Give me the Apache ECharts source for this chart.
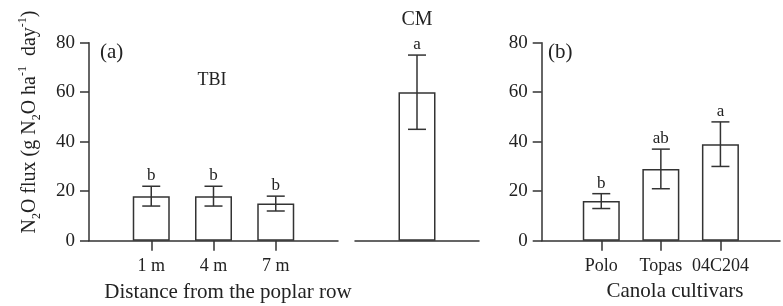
<!DOCTYPE html>
<html>
<head>
<meta charset="utf-8">
<script src="https://cdn.jsdelivr.net/npm/echarts@6/dist/echarts.min.js"></script>
<style>html,body{margin:0;padding:0;background:#fff}#c{width:783px;height:306px}</style>
</head>
<body>
<div id="c"></div>
<script>
// ---- data ----
const catsA = ['1 m', '4 m', '7 m'];
const valsA = [18, 18, 15];
const errA = [4, 4, 3];
const lettersA = ['b', 'b', 'b'];

const catsCM = ['CM'];
const valsCM = [60];
const errCM = [15];
const lettersCM = ['a'];

const catsB = ['Polo', 'Topas', '04C204'];
const valsB = [16, 29, 39];
const errB = [3, 8, 9];
const lettersB = ['b', 'ab', 'a'];

const yTicks = [0, 20, 40, 60, 80];

// ---- helpers ----
const FONT = 'Liberation Serif';
const INK = '#222';
const LINE = '#333';
const padCats = c => ['', ...c, ''];
const padVals = v => ['-', ...v, '-'];

function errData(vals, errs, offset) {
  return vals.map((v, i) => [i + offset, v, errs[i]]);
}
function errSeries(xi, vals, errs, letters, offset) {
  return {
    type: 'custom', xAxisIndex: xi, yAxisIndex: xi, z: 5,
    data: errData(vals, errs, offset),
    encode: {x: 0, y: 1},
    renderItem: function (params, api) {
      const x = api.value(0), v = api.value(1), e = api.value(2);
      const t = api.coord([x, v + e]);
      const b = api.coord([x, v - e]);
      const hw = 9;
      const st = {stroke: LINE, lineWidth: 1.5};
      return {
        type: 'group',
        children: [
          {type: 'line', shape: {x1: t[0], y1: t[1], x2: b[0], y2: b[1]}, style: st},
          {type: 'line', shape: {x1: t[0] - hw, y1: t[1], x2: t[0] + hw, y2: t[1]}, style: st},
          {type: 'line', shape: {x1: b[0] - hw, y1: b[1], x2: b[0] + hw, y2: b[1]}, style: st},
          {type: 'text', x: t[0], y: t[1] - 2, style: {text: letters[params.dataIndex], fill: INK,
            font: '17px "' + FONT + '"', align: 'center', verticalAlign: 'bottom'}}
        ]
      };
    }
  };
}
function barSeries(xi, data) {
  return {
    type: 'bar', xAxisIndex: xi, yAxisIndex: xi, data: data, barWidth: 37,
    itemStyle: {color: '#fff', borderColor: LINE, borderWidth: 1.5}
  };
}
const yAxisBase = (gi, show) => ({
  type: 'value', gridIndex: gi, min: yTicks[0], max: yTicks[yTicks.length - 1],
  interval: yTicks[1] - yTicks[0], show: show,
  axisLine: {show: true, lineStyle: {color: LINE, width: 1.5}},
  axisTick: {show: true, length: 9, lineStyle: {color: LINE, width: 1.5}},
  axisLabel: {color: INK, fontFamily: FONT, fontSize: 19, margin: 14},
  splitLine: {show: false}
});
const xAxisCat = (gi, data, gap) => ({
  type: 'category', gridIndex: gi, data: data, boundaryGap: gap,
  axisLine: {show: true, lineStyle: {color: LINE, width: 1.5}},
  axisTick: {show: !gap, length: 10, alignWithLabel: true,
    interval: (i, v) => v !== '', lineStyle: {color: LINE, width: 1.5}},
  axisLabel: {show: !gap, interval: 0, color: INK, fontFamily: FONT, fontSize: 18, margin: 17}
});

const chart = echarts.init(document.getElementById('c'), null, {renderer: 'canvas'});
const topY = 42.7, h = 198;
chart.setOption({
  animation: false,
  backgroundColor: '#fff',
  grid: [
    {left: 89, top: topY, width: 249, height: h},
    {left: 355, top: topY, width: 124, height: h},
    {left: 541.7, top: topY, width: 249, height: h}
  ],
  xAxis: [
    xAxisCat(0, padCats(catsA), false),
    xAxisCat(1, catsCM, true),
    xAxisCat(2, padCats(catsB), false),
    {type: 'category', gridIndex: 1, data: catsCM, position: 'top', boundaryGap: true,
      axisLine: {show: false}, axisTick: {show: false},
      axisLabel: {color: INK, fontFamily: FONT, fontSize: 20, margin: 13}}
  ],
  yAxis: [yAxisBase(0, true), yAxisBase(1, false), yAxisBase(2, true)],
  series: [
    barSeries(0, padVals(valsA)),
    barSeries(1, valsCM),
    barSeries(2, padVals(valsB)),
    errSeries(0, valsA, errA, lettersA, 1),
    errSeries(1, valsCM, errCM, lettersCM, 0),
    errSeries(2, valsB, errB, lettersB, 1)
  ],
  graphic: [
    {type: 'text', left: 100, top: 42, style: {text: '(a)', fill: INK, font: '21px "' + FONT + '"'}},
    {type: 'text', left: 548, top: 42, style: {text: '(b)', fill: INK, font: '21px "' + FONT + '"'}},
    {type: 'text', x: 212, y: 80, style: {text: 'TBI', fill: INK, font: '18px "' + FONT + '"', align: 'center', verticalAlign: 'middle'}},
    {type: 'text', x: 228, y: 292, style: {text: 'Distance from the poplar row', fill: INK, font: '21px "' + FONT + '"', align: 'center', verticalAlign: 'middle'}},
    {type: 'text', x: 675, y: 291, style: {text: 'Canola cultivars', fill: INK, font: '21px "' + FONT + '"', align: 'center', verticalAlign: 'middle'}},
    {type: 'text', x: 30, y: 122, rotation: Math.PI / 2,
      style: {
        text: '{m|N}{s|2}{m|O flux (g N}{s|2}{m|O ha}{p|-1}{m|  day}{p|-1}{m|)}',
        align: 'center', verticalAlign: 'middle', fill: INK,
        rich: {
          m: {fontFamily: FONT, fontSize: 20, lineHeight: 26, verticalAlign: 'middle', fill: INK},
          s: {fontFamily: FONT, fontSize: 12, lineHeight: 12, verticalAlign: 'bottom', fill: INK},
          p: {fontFamily: FONT, fontSize: 12, lineHeight: 12, verticalAlign: 'top', fill: INK}
        }
      }}
  ]
});
</script>
</body>
</html>
